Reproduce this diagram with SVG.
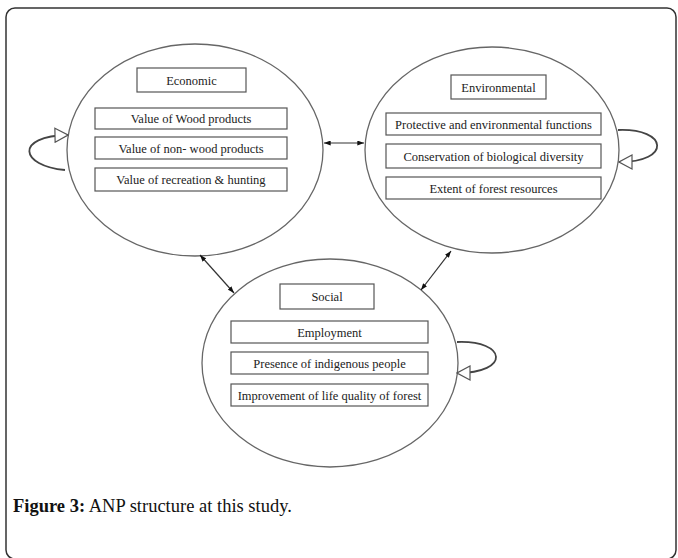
<svg xmlns="http://www.w3.org/2000/svg" width="678" height="558" viewBox="0 0 678 558">
<style>
.frame{fill:#fff;stroke:#333;stroke-width:1.5}
.ell{fill:#fff;stroke:#666;stroke-width:1.3}
.box{fill:#fff;stroke:#555;stroke-width:1.2}
.t{font-family:"Liberation Serif","Times New Roman",serif;font-size:12.5px;fill:#222;text-anchor:middle}
.link{fill:none;stroke:#333;stroke-width:1.2}
.loop{fill:none;stroke:#444;stroke-width:1.8}
.cap{font-family:"Liberation Serif","Times New Roman",serif;font-size:18.5px;fill:#111}
</style>
<defs>
<marker id="ah" viewBox="0 0 8 6" refX="8" refY="3" markerWidth="7" markerHeight="5" markerUnits="userSpaceOnUse" orient="auto-start-reverse">
<path d="M0,0 L8,3 L0,6 z" fill="#111"/>
</marker>
<marker id="open" viewBox="-1 -1 15 16" refX="13" refY="7" markerWidth="15" markerHeight="16" markerUnits="userSpaceOnUse" orient="auto">
<path d="M0,0 L13,7 L0,14 z" fill="#fff" stroke="#555" stroke-width="1.2"/>
</marker>
</defs>
<rect class="frame" x="6" y="8" width="670" height="551" rx="9"/>

<g id="economic">
<ellipse class="ell" cx="195" cy="150" rx="128" ry="106"/>
<rect class="box" x="137" y="68" width="109" height="24"/>
<text class="t" x="191.5" y="84.5">Economic</text>
<rect class="box" x="95" y="108" width="192" height="21"/>
<text class="t" x="191" y="123">Value of Wood products</text>
<rect class="box" x="95" y="137" width="192" height="22"/>
<text class="t" x="191" y="152.5">Value of non- wood products</text>
<rect class="box" x="95" y="168" width="192" height="23"/>
<text class="t" x="191" y="184">Value of recreation &amp; hunting</text>
</g>

<g id="environmental">
<ellipse class="ell" cx="492" cy="150" rx="127" ry="103"/>
<rect class="box" x="451" y="75" width="95" height="24"/>
<text class="t" x="498.5" y="91.5">Environmental</text>
<rect class="box" x="386" y="113" width="215" height="22"/>
<text class="t" x="493.5" y="128.5">Protective and environmental functions</text>
<rect class="box" x="386" y="144" width="215" height="24"/>
<text class="t" x="493.5" y="160.5">Conservation of biological diversity</text>
<rect class="box" x="386" y="177" width="215" height="22"/>
<text class="t" x="493.5" y="192.5">Extent of forest resources</text>
</g>

<g id="social">
<ellipse class="ell" cx="330" cy="363" rx="128" ry="104"/>
<rect class="box" x="280" y="284" width="94" height="25"/>
<text class="t" x="327" y="300.5">Social</text>
<rect class="box" x="231" y="321" width="197" height="22"/>
<text class="t" x="329.5" y="336.5">Employment</text>
<rect class="box" x="231" y="352" width="197" height="22"/>
<text class="t" x="329.5" y="367.5">Presence of indigenous people</text>
<rect class="box" x="231" y="384" width="197" height="22"/>
<text class="t" x="329.5" y="399.5">Improvement of life quality of forest</text>
</g>

<g id="connectors">
<path class="link" d="M324,143 L364,143" marker-start="url(#ah)" marker-end="url(#ah)"/>
<path class="link" d="M200,255 L234,293" marker-start="url(#ah)" marker-end="url(#ah)"/>
<path class="link" d="M451,251 L421,290" marker-start="url(#ah)" marker-end="url(#ah)"/>
<path class="loop" d="M65,170 C20,166 14,136 68,135" marker-end="url(#open)"/>
<path class="loop" d="M618,130 C668,128 672,162 619,162" marker-end="url(#open)"/>
<path class="loop" d="M457,342 C507,340 511,373 457,373" marker-end="url(#open)"/>
</g>

<text class="cap" x="13" y="512"><tspan font-weight="bold">Figure 3:</tspan> ANP structure at this study.</text>
</svg>
